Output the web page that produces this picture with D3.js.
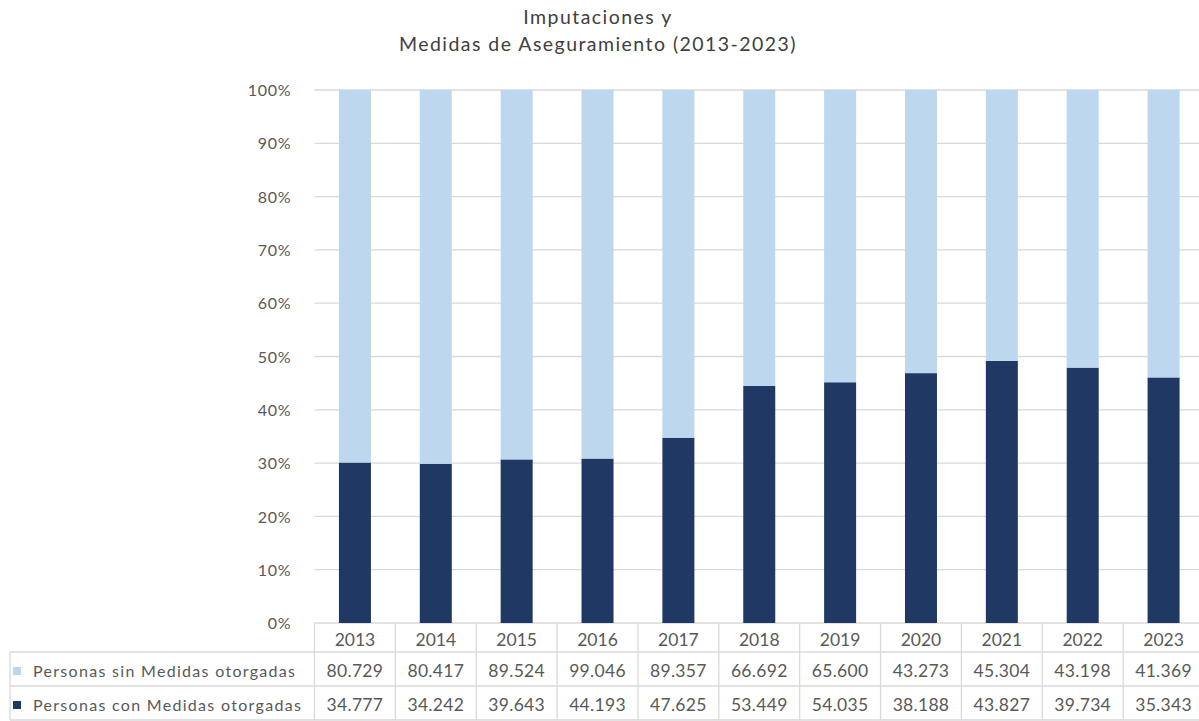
<!DOCTYPE html>
<html>
<head>
<meta charset="utf-8">
<script src="https://cdn.jsdelivr.net/npm/d3@7"></script>
<style>
  body { margin: 0; background: #fff; }
  svg { display: block; font-family: Lato, "Open Sans", sans-serif; }
</style>
</head>
<body>
<div id="chart"></div>
<script>
const years = ["2013", "2014", "2015", "2016", "2017", "2018", "2019", "2020", "2021", "2022", "2023"];
const sinMedidas = [80729, 80417, 89524, 99046, 89357, 66692, 65600, 43273, 45304, 43198, 41369];
const conMedidas = [34777, 34242, 39643, 44193, 47625, 53449, 54035, 38188, 43827, 39734, 35343];
const seriesNames = ["Personas sin Medidas otorgadas", "Personas con Medidas otorgadas"];
const yTicks = [0, 0.1, 0.2, 0.3, 0.4, 0.5, 0.6, 0.7, 0.8, 0.9, 1];

const width = 1199, height = 721;
const plot = { left: 314.5, right: 1204, top: 90, bottom: 623 };
const rowH = 34;
const colors = { con: "#1f3864", sin: "#bdd7ee", grid: "#d9d9d9", text: "#595959" };

const svg = d3.select("#chart")
  .append("svg")
  .attr("width", width)
  .attr("height", height);

const data = years.map((y, i) => ({ year: y, con: conMedidas[i], sin: sinMedidas[i] }));
const stacked = d3.stack().keys(["con", "sin"]).offset(d3.stackOffsetExpand)(data);

const x = d3.scaleBand()
  .domain(years)
  .range([plot.left, plot.right])
  .paddingInner(0)
  .paddingOuter(0);

const y = d3.scaleLinear()
  .domain([0, 1])
  .range([plot.bottom, plot.top]);

// title
const title = svg.append("g")
  .attr("font-size", 19.5)
  .attr("letter-spacing", 1.45)
  .attr("fill", "#404040")
  .attr("text-anchor", "middle");
title.append("text").attr("x", 598).attr("y", 24).text("Imputaciones y");
title.append("text").attr("x", 598).attr("y", 51).text("Medidas de Aseguramiento (2013-2023)");

// gridlines + y labels
svg.append("g")
  .selectAll("line")
  .data(yTicks)
  .join("line")
  .attr("x1", plot.left).attr("x2", plot.right)
  .attr("y1", d => y(d)).attr("y2", d => y(d))
  .attr("stroke", colors.grid)
  .attr("stroke-width", 1.3);

const yAxis = svg.append("g")
  .attr("transform", `translate(${plot.left - 20},0)`)
  .call(d3.axisLeft(y).tickValues(yTicks).tickFormat(d3.format(".0%")).tickSize(0));
yAxis.select(".domain").remove();
yAxis.selectAll("text")
  .attr("font-family", "Lato, 'Open Sans', sans-serif")
  .attr("font-size", 16)
  .attr("letter-spacing", 0.8)
  .attr("fill", colors.text)
  .attr("dy", "0.35em");

// bars
const barW = 32;
svg.append("g")
  .selectAll("g")
  .data(stacked)
  .join("g")
  .attr("fill", d => colors[d.key])
  .selectAll("rect")
  .data(d => d)
  .join("rect")
  .attr("x", d => x(d.data.year) + x.bandwidth() / 2 - barW / 2)
  .attr("width", barW)
  .attr("y", d => y(d[1]))
  .attr("height", d => y(d[0]) - y(d[1]));

// data table
const table = svg.append("g");
const tableLeft = 10;
const rows = [
  { name: seriesNames[0], key: "sin", values: sinMedidas },
  { name: seriesNames[1], key: "con", values: conMedidas }
];
const headerBottom = plot.bottom + 29;
const tableBottom = headerBottom + rowH * rows.length;
const fmt = v => d3.format(",")(v).replace(/,/g, ".");

// horizontal lines
[headerBottom, headerBottom + rowH, tableBottom].forEach(yy => {
  table.append("line")
    .attr("x1", tableLeft).attr("x2", plot.right)
    .attr("y1", yy).attr("y2", yy)
    .attr("stroke", colors.grid).attr("stroke-width", 1.3);
});
// vertical lines
years.forEach(yr => {
  table.append("line")
    .attr("x1", x(yr)).attr("x2", x(yr))
    .attr("y1", plot.bottom).attr("y2", tableBottom)
    .attr("stroke", colors.grid).attr("stroke-width", 1.3);
});
table.append("line")
  .attr("x1", tableLeft).attr("x2", tableLeft)
  .attr("y1", headerBottom).attr("y2", tableBottom)
  .attr("stroke", colors.grid).attr("stroke-width", 1.3);

// header years
table.selectAll(".yr")
  .data(years)
  .join("text")
  .attr("class", "yr")
  .attr("x", d => x(d) + x.bandwidth() / 2)
  .attr("y", plot.bottom + 17)
  .attr("dy", "0.35em")
  .attr("text-anchor", "middle")
  .attr("font-size", 17.5)
  .attr("fill", colors.text)
  .text(d => d);

rows.forEach((r, ri) => {
  const cy = headerBottom + rowH * ri + rowH / 2 + 2;
  table.append("rect")
    .attr("x", 13).attr("y", cy - 4)
    .attr("width", 8).attr("height", 8)
    .attr("fill", colors[r.key]);
  table.append("text")
    .attr("x", 33).attr("y", cy)
    .attr("dy", "0.35em")
    .attr("font-size", 16)
    .attr("letter-spacing", 1.3)
    .attr("fill", colors.text)
    .text(r.name);
  table.selectAll(".v" + ri)
    .data(r.values)
    .join("text")
    .attr("x", (d, i) => x(years[i]) + x.bandwidth() / 2)
    .attr("y", cy)
    .attr("dy", "0.35em")
    .attr("text-anchor", "middle")
    .attr("font-size", 17.5)
    .attr("letter-spacing", 0.3)
    .attr("fill", colors.text)
    .text(d => fmt(d));
});
</script>
</body>
</html>
